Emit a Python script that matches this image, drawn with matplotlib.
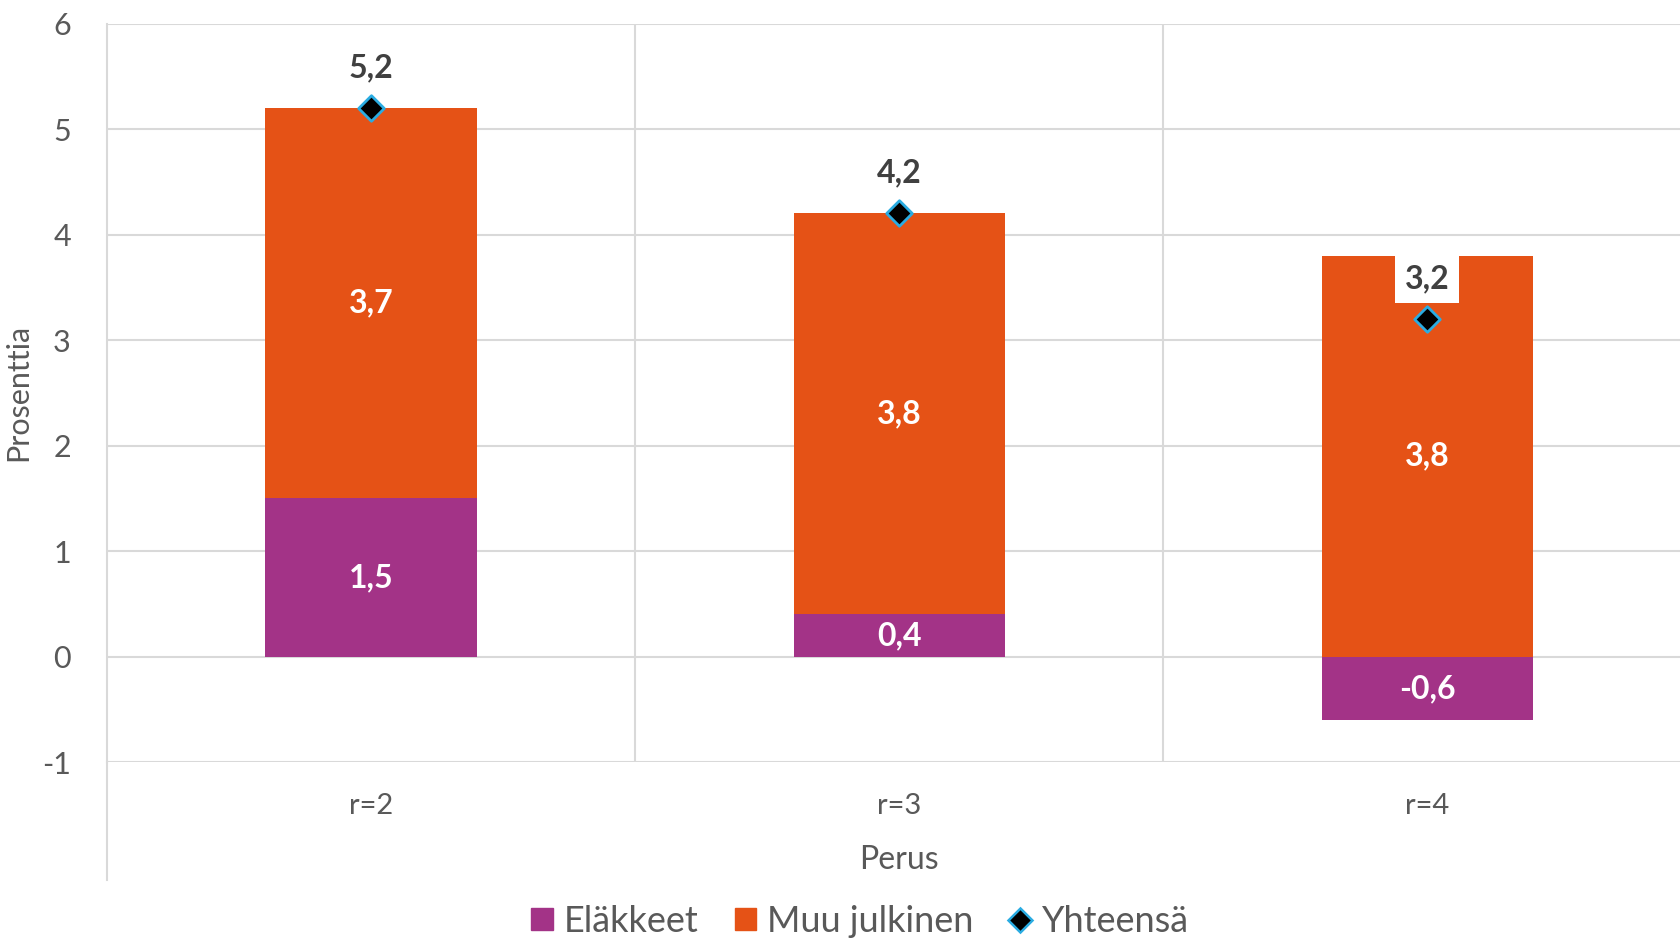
import numpy as np
import matplotlib.pyplot as plt
from matplotlib.lines import Line2D
from matplotlib.patches import Patch

plt.rcParams['font.family'] = ['Lato', 'DejaVu Sans']
plt.rcParams['axes.unicode_minus'] = False

# data
categories = ['r=2', 'r=3', 'r=4']
elakkeet = [1.5, 0.4, -0.6]
muu_julkinen = [3.7, 3.8, 3.8]
yhteensa = [5.2, 4.2, 3.2]

c_purple = '#A33387'
c_orange = '#E55216'
c_text = '#595959'
c_grid = '#D9D9D9'


def fmt(v):
    return '{:.1f}'.format(v).replace('.', ',')


fig = plt.figure(figsize=(16.8, 9.41), dpi=100)
ax = fig.add_axes([0.0637, 0.190, 0.943, 0.785])

x = np.arange(len(categories))
w = 0.40
bottoms = [max(v, 0) for v in elakkeet]

ax.bar(x, elakkeet, w, color=c_purple, zorder=2)
ax.bar(x, muu_julkinen, w, bottom=bottoms, color=c_orange, zorder=2)
ax.scatter(x, yhteensa, marker='D', s=170, color='black', edgecolors='#2AACE2',
           linewidths=2, zorder=4)

# segment labels
for i in range(len(x)):
    ax.text(x[i], elakkeet[i] / 2, fmt(elakkeet[i]), ha='center', va='center',
            color='white', fontsize=23, fontweight='bold', zorder=5)
    ax.text(x[i], bottoms[i] + muu_julkinen[i] / 2, fmt(muu_julkinen[i]),
            ha='center', va='center', color='white', fontsize=23,
            fontweight='bold', zorder=5)
    ax.annotate(fmt(yhteensa[i]), (x[i], yhteensa[i]), xytext=(0, 29),
                textcoords='offset points', ha='center', va='center',
                color='#404040', fontsize=23, fontweight='bold', zorder=5,
                bbox=dict(boxstyle='square,pad=0.3', fc='white', ec='none'))

ax.set_xlim(-0.5, 2.5)
ax.set_ylim(-1, 6)
ax.set_yticks(range(-1, 7))
ax.yaxis.grid(True, color=c_grid, lw=1.5, zorder=0)
for sep in [0.5, 1.5]:
    ax.axvline(sep, color=c_grid, lw=1.5, zorder=0)
for s in ['top', 'right', 'bottom']:
    ax.spines[s].set_visible(False)
ax.spines['left'].set_color(c_grid)
ax.spines['left'].set_linewidth(1.5)
ax.plot([-0.5, -0.5], [-1, -2.12], color=c_grid, lw=1.5, clip_on=False)

ax.tick_params(axis='y', length=0, labelsize=22, labelcolor=c_text, pad=26)
ax.set_xticks(x)
ax.set_xticklabels(categories)
ax.tick_params(axis='x', length=0, labelsize=21, labelcolor=c_text, pad=22)

ax.set_ylabel('Prosenttia', fontsize=22, color=c_text)
ax.yaxis.set_label_coords(-0.047, 0.5)
fig.text(0.535, 0.086, 'Perus', ha='center', va='center', fontsize=23, color=c_text)

handles = [Patch(color=c_purple), Patch(color=c_orange),
           Line2D([], [], marker='D', ls='none', color='black',
                  markeredgecolor='#2AACE2', markersize=12, markeredgewidth=1.8)]
fig.legend(handles, ['Eläkkeet', 'Muu julkinen', 'Yhteensä'], loc='center',
           bbox_to_anchor=(0.512, 0.021), ncol=3, frameon=False, fontsize=26,
           labelcolor=c_text, handlelength=0.6, handleheight=0.6,
           handletextpad=0.3, columnspacing=1.0)

fig.savefig('out.png', dpi=100)
